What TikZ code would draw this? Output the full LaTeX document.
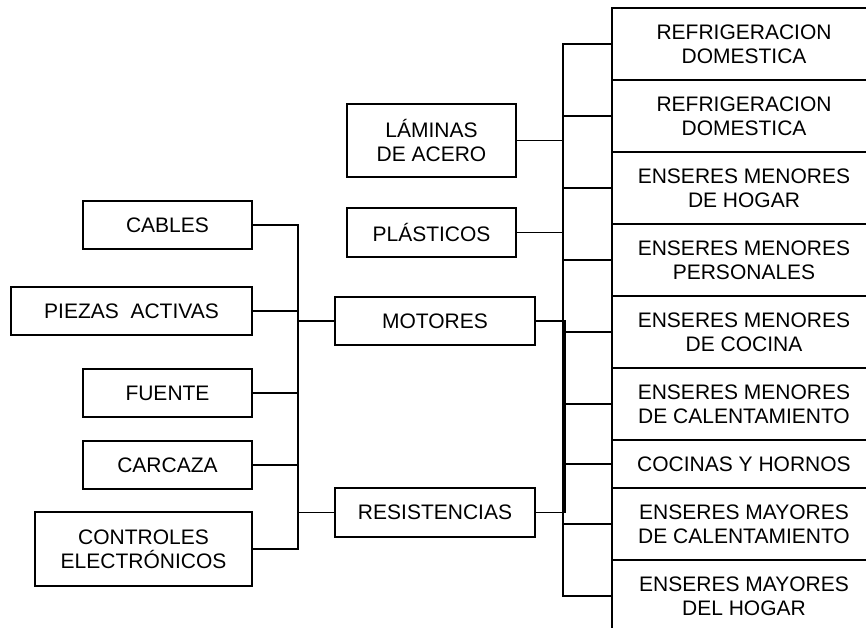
\documentclass[tikz,border=0pt]{standalone}
\usepackage{fontspec}
\setmainfont{Liberation Sans}
\begin{document}
\begin{tikzpicture}[x=1pt,y=-1pt,
  box/.style={draw, line width=1.8pt, rectangle, inner sep=0pt, align=center,
    font=\fontsize{21}{24}\selectfont},
  wire/.style={line width=1.8pt}]
\clip (0,0) rectangle (866,628);
\fill[white] (0,0) rectangle (866,628);
% left column
\node[box, minimum width=169pt, minimum height=48pt] (cables) at (167.5,225) {CABLES};
\node[box, minimum width=241pt, minimum height=48pt] (piezas) at (131.5,311) {PIEZAS\ \ ACTIVAS};
\node[box, minimum width=169pt, minimum height=48pt] (fuente) at (167.5,393) {FUENTE};
\node[box, minimum width=169pt, minimum height=48pt] (carcaza) at (167.5,465) {CARCAZA};
\node[box, minimum width=217pt, minimum height=74pt] (controles) at (143.5,549) {CONTROLES\\ELECTRÓNICOS};
% middle column
\node[box, minimum width=169pt, minimum height=73pt] (laminas) at (431.5,140.5) {LÁMINAS\\DE ACERO};
\node[box, minimum width=169pt, minimum height=49pt] (plasticos) at (431.5,232.5) {PLÁSTICOS};
\node[box, minimum width=200pt, minimum height=48pt] (motores) at (435,321) {MOTORES};
\node[box, minimum width=200pt, minimum height=49pt] (resist) at (435,512.5) {RESISTENCIAS};
% right column
\node[box, minimum width=264pt, minimum height=72pt] (r1) at (744,44) {REFRIGERACION\\DOMESTICA};
\node[box, minimum width=264pt, minimum height=72pt] (r2) at (744,116) {REFRIGERACION\\DOMESTICA};
\node[box, minimum width=264pt, minimum height=72pt] (r3) at (744,188) {ENSERES MENORES\\DE HOGAR};
\node[box, minimum width=264pt, minimum height=72pt] (r4) at (744,260) {ENSERES MENORES\\PERSONALES};
\node[box, minimum width=264pt, minimum height=72pt] (r5) at (744,332) {ENSERES MENORES\\DE COCINA};
\node[box, minimum width=264pt, minimum height=72pt] (r6) at (744,404) {ENSERES MENORES\\DE CALENTAMIENTO};
\node[box, minimum width=264pt, minimum height=48pt] (r7) at (744,464) {COCINAS Y HORNOS};
\node[box, minimum width=264pt, minimum height=72pt] (r8) at (744,524) {ENSERES MAYORES\\DE CALENTAMIENTO};
\node[box, minimum width=264pt, minimum height=72pt] (r9) at (744,596) {ENSERES MAYORES\\DEL HOGAR};
% bus coordinates
\coordinate (lb) at (298,0);
\coordinate (rb) at (563,0);
\coordinate (mb) at (565,0);
% left bus
\draw[wire] (cables.east) -- (cables.east -| lb) -- (controles.east -| lb) -- (controles.east);
\draw[wire] (piezas.east) -- (piezas.east -| lb);
\draw[wire] (fuente.east) -- (fuente.east -| lb);
\draw[wire] (carcaza.east) -- (carcaza.east -| lb);
\draw[wire] (motores.west) -- (motores.west -| lb);
\draw[wire] (resist.west) -- (resist.west -| lb);
% right bus
\draw[wire] (r1.west) -- (r1.west -| rb) -- (r9.west -| rb) -- (r9.west);
\foreach \r in {r2,r3,r4,r5,r6,r7,r8} \draw[wire] (\r.west) -- (\r.west -| rb);
\draw[wire] (laminas.east) -- (laminas.east -| rb);
\draw[wire] (plasticos.east) -- (plasticos.east -| rb);
\draw[wire] (motores.east) -- (motores.east -| mb) -- (resist.east -| mb) -- (resist.east);
\end{tikzpicture}
\end{document}
